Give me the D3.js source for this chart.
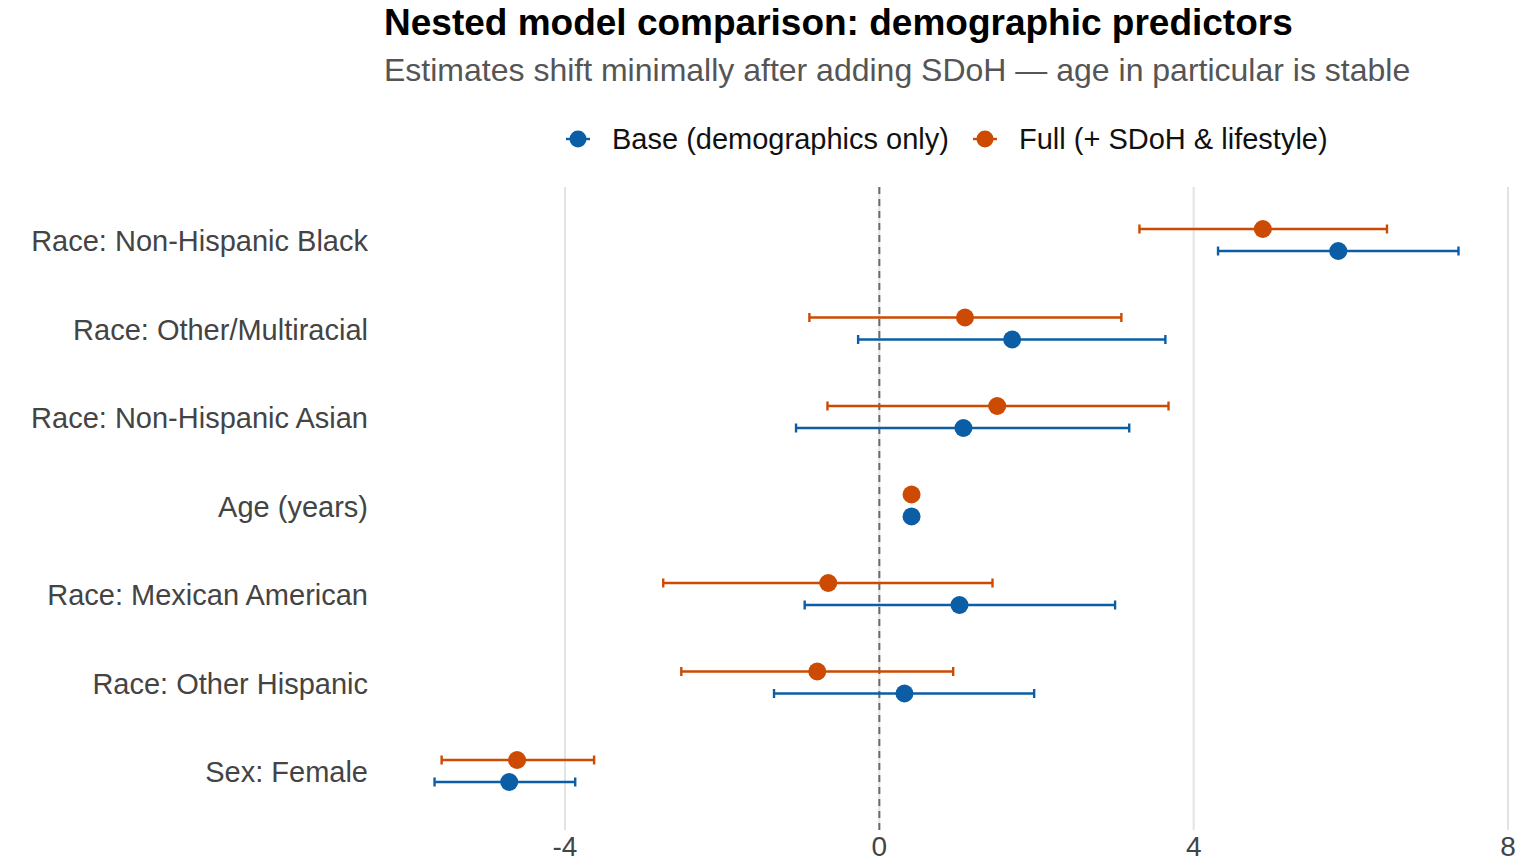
<!DOCTYPE html>
<html>
<head>
<meta charset="utf-8">
<script src="https://cdn.jsdelivr.net/npm/d3@7"></script>
<style>
  body { margin: 0; background: #fff; }
  text { font-family: "Liberation Sans", Arial, sans-serif; }
</style>
</head>
<body>
<script>
// categories top to bottom
var terms = ["Race: Non-Hispanic Black", "Race: Other/Multiracial", "Race: Non-Hispanic Asian",
  "Age (years)", "Race: Mexican American", "Race: Other Hispanic", "Sex: Female"];

// base model (demographics only)
var baseEst = [5.84, 1.69, 1.07, 0.41, 1.02, 0.32, -4.71];
var baseLo  = [4.31, -0.27, -1.06, 0.38, -0.95, -1.34, -5.66];
var baseHi  = [7.37, 3.64, 3.18, 0.44, 3.00, 1.97, -3.87];

// full model (+ SDoH & lifestyle)
var fullEst = [4.88, 1.09, 1.50, 0.41, -0.65, -0.79, -4.61];
var fullLo  = [3.31, -0.89, -0.66, 0.38, -2.75, -2.52, -5.57];
var fullHi  = [6.46, 3.08, 3.68, 0.44, 1.44, 0.94, -3.63];

var xTicks = [-4, 0, 4, 8];

var models = [
  { name: "Base (demographics only)", color: "#0b5ea6", dy: 11, est: baseEst, lo: baseLo, hi: baseHi },
  { name: "Full (+ SDoH & lifestyle)", color: "#cc4a02", dy: -11, est: fullEst, lo: fullLo, hi: fullHi }
];

var width = 1534, height = 863;

var svg = d3.select("body").append("svg")
  .attr("width", width)
  .attr("height", height);

var x = d3.scaleLinear().domain([-4, 8]).range([565, 1508]);
var y = d3.scalePoint().domain(terms).range([240, 771]);

// title + subtitle
svg.append("text")
  .attr("x", 384).attr("y", 35)
  .attr("font-size", 37).attr("font-weight", "bold").attr("fill", "#000")
  .text("Nested model comparison: demographic predictors");
svg.append("text")
  .attr("x", 384).attr("y", 81)
  .attr("font-size", 32).attr("fill", "#555")
  .text("Estimates shift minimally after adding SDoH \u2014 age in particular is stable");

// grid
svg.selectAll(".grid")
  .data(xTicks)
  .enter().append("line")
  .attr("class", "grid")
  .attr("x1", function (d) { return x(d); })
  .attr("x2", function (d) { return x(d); })
  .attr("y1", 187).attr("y2", 830)
  .attr("stroke", "#e3e3e3").attr("stroke-width", 2);

// zero line
svg.append("line")
  .attr("x1", x(0)).attr("x2", x(0))
  .attr("y1", 187).attr("y2", 830)
  .attr("stroke", "#6b6b6b").attr("stroke-width", 2)
  .attr("stroke-dasharray", "7,5");

// x tick labels
svg.selectAll(".xtick")
  .data(xTicks)
  .enter().append("text")
  .attr("class", "xtick")
  .attr("x", function (d) { return x(d); })
  .attr("y", 856)
  .attr("text-anchor", "middle")
  .attr("font-size", 28).attr("fill", "#444")
  .text(function (d) { return d; });

// y labels
svg.selectAll(".ylab")
  .data(terms)
  .enter().append("text")
  .attr("class", "ylab")
  .attr("x", 368)
  .attr("y", function (d) { return y(d) + 11; })
  .attr("text-anchor", "end")
  .attr("font-size", 29).attr("fill", "#444")
  .text(function (d) { return d; });

// error bars and points
models.forEach(function (m) {
  var g = svg.append("g");
  var rows = terms.map(function (t, i) {
    return { term: t, est: m.est[i], lo: m.lo[i], hi: m.hi[i] };
  });
  var cap = 4.5;
  g.selectAll(".bar").data(rows).enter().append("line")
    .attr("x1", function (d) { return x(d.lo); })
    .attr("x2", function (d) { return x(d.hi); })
    .attr("y1", function (d) { return y(d.term) + m.dy; })
    .attr("y2", function (d) { return y(d.term) + m.dy; })
    .attr("stroke", m.color).attr("stroke-width", 2.4);
  ["lo", "hi"].forEach(function (k) {
    g.selectAll(".cap-" + k).data(rows).enter().append("line")
      .attr("x1", function (d) { return x(d[k]); })
      .attr("x2", function (d) { return x(d[k]); })
      .attr("y1", function (d) { return y(d.term) + m.dy - cap; })
      .attr("y2", function (d) { return y(d.term) + m.dy + cap; })
      .attr("stroke", m.color).attr("stroke-width", 2.4);
  });
  g.selectAll("circle").data(rows).enter().append("circle")
    .attr("cx", function (d) { return x(d.est); })
    .attr("cy", function (d) { return y(d.term) + m.dy; })
    .attr("r", 9)
    .attr("fill", m.color);
});

// legend
var legend = svg.append("g");
var lx = [578, 985];
models.forEach(function (m, i) {
  var lg = legend.append("g").attr("transform", "translate(" + lx[i] + ",139)");
  lg.append("line").attr("x1", -12).attr("x2", 12)
    .attr("stroke", m.color).attr("stroke-width", 2.4);
  lg.append("circle").attr("r", 8.5).attr("fill", m.color);
  lg.append("text").attr("x", 34).attr("y", 10)
    .attr("font-size", 29).attr("fill", "#111")
    .text(m.name);
});
</script>
</body>
</html>
